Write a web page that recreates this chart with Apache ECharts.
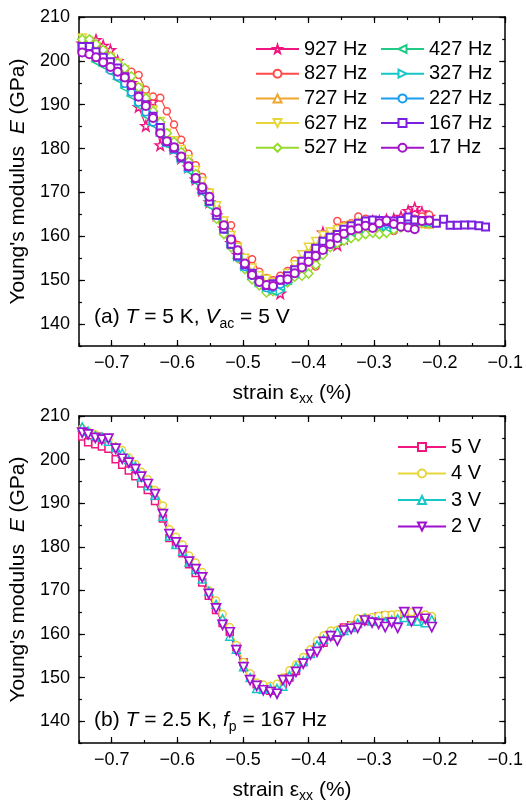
<!DOCTYPE html>
<html>
<head>
<meta charset="utf-8">
<script src="https://cdn.jsdelivr.net/npm/echarts@6/dist/echarts.min.js"></script>
<style>
  html, body { margin: 0; padding: 0; background: #fff; }
  #chart { width: 526px; height: 804px; }
</style>
</head>
<body>
<div id="chart"></div>
<script>
// ---- panel (a): T = 5 K, Vac = 5 V, different pulse frequencies ----
const strainA = [-0.745, -0.734, -0.724, -0.713, -0.702, -0.691, -0.680, -0.670, -0.659, -0.648,
  -0.637, -0.626, -0.616, -0.605, -0.594, -0.583, -0.572, -0.562, -0.551, -0.540,
  -0.529, -0.518, -0.508, -0.497, -0.486, -0.475, -0.464, -0.454, -0.443, -0.432,
  -0.421, -0.410, -0.400, -0.389, -0.378, -0.367, -0.356, -0.346, -0.335, -0.324,
  -0.313, -0.302, -0.292, -0.281, -0.270, -0.259, -0.248, -0.238, -0.227, -0.216]
// 167 Hz run goes further
const strainA167 = strainA.concat([-0.205, -0.194, -0.184, -0.173, -0.162, -0.151, -0.140, -0.130])

const e927 = [204.0, 204.5, 204.8, 203.5, 202.5, 200.0, 197.5, 195.0, 189.5, 185.2,
  190.7, 180.8, 182.0, 180.0, 177.8, 175.8, 173.0, 170.5, 167.8, 164.8,
  161.8, 158.5, 155.8, 153.6, 151.5, 150.0, 148.5, 148.0, 147.0, 150.5,
  152.5, 154.5, 156.0, 158.0, 160.9, 159.5, 158.0, 159.5, 161.0, 162.0,
  163.0, 163.5, 163.5, 163.8, 164.0, 164.5, 165.8, 166.5, 165.5, 164.5]
const e827 = [203.5, 203.0, 202.0, 201.0, 200.0, 199.0, 198.0, 197.5, 196.8, 193.4,
  191.9, 191.6, 188.5, 185.5, 182.0, 178.8, 176.2, 173.5, 170.0, 166.5,
  163.5, 162.5, 158.0, 155.0, 154.8, 151.9, 150.5, 150.0, 151.0, 152.1,
  154.5, 153.5, 154.0, 153.1, 158.5, 160.5, 163.5, 162.5, 163.0, 164.5,
  164.0, 163.5, 162.5, 161.5, 161.2, 162.0, 163.0, 164.0, 164.5, 164.9]
const e727 = [204.5, 204.0, 203.0, 201.8, 200.5, 199.3, 197.5, 195.8, 193.5, 191.0,
  188.2, 185.5, 182.8, 181.0, 179.0, 177.0, 174.5, 171.8, 169.0, 166.0,
  162.5, 159.2, 156.5, 154.0, 152.0, 150.3, 149.5, 149.0, 149.5, 150.8,
  152.8, 154.8, 156.5, 158.0, 159.6, 160.8, 161.5, 162.3, 162.8, 163.2,
  163.5, 163.4, 163.0, 162.8, 163.0, 163.2, 163.5, 163.3, 163.0, 162.8]
const e627 = [205.2, 204.5, 203.3, 202.0, 200.8, 199.5, 198.0, 196.0, 193.8, 191.5,
  188.8, 186.2, 183.5, 181.8, 179.8, 177.5, 175.0, 172.5, 169.8, 167.0,
  163.5, 160.2, 157.5, 155.0, 152.8, 151.0, 150.2, 149.5, 150.0, 151.5,
  153.5, 155.8, 157.5, 158.8, 160.2, 161.0, 161.5, 162.0, 162.5, 163.0,
  163.2, 163.0, 162.6, 162.5, 162.8, 163.0, 163.3, 163.0, 162.8, 162.7]
const e527 = [204.9, 204.9, 203.8, 202.5, 201.0, 199.5, 198.3, 196.5, 194.0, 191.5,
  188.5, 186.0, 183.5, 181.5, 179.2, 177.0, 174.2, 171.0, 167.5, 164.0,
  160.5, 157.5, 155.0, 152.5, 150.2, 148.8, 147.2, 147.5, 148.0, 149.5,
  150.8, 151.0, 151.5, 153.5, 155.8, 157.5, 158.5, 159.0, 159.6, 160.0,
  160.5, 160.8, 160.5, 160.8, 161.5, 162.0, 162.5, 163.0, 163.2, 163.0]
const e427 = [202.5, 201.5, 199.8, 198.9, 197.5, 195.8, 193.8, 192.0, 189.8, 187.5,
  185.5, 183.5, 181.0, 179.5, 177.5, 175.0, 172.5, 170.0, 167.0, 164.5,
  161.5, 158.0, 155.0, 152.8, 151.0, 149.5, 148.0, 147.5, 148.5, 150.0,
  151.5, 153.2, 154.5, 155.8, 157.0, 158.5, 159.5, 160.2, 161.0, 161.8,
  162.3, 162.5, 162.3, 162.0, 162.5, 163.0, 163.5, 163.5, 163.2, 163.0]
const e327 = [203.0, 202.5, 201.0, 199.8, 198.5, 197.0, 195.0, 193.0, 190.8, 188.5,
  186.2, 183.8, 181.5, 179.8, 177.8, 175.5, 173.0, 170.5, 168.0, 165.2,
  162.0, 158.5, 155.5, 153.2, 151.2, 149.5, 148.5, 148.0, 147.5, 149.5,
  151.5, 153.0, 154.5, 156.0, 157.5, 158.8, 159.8, 160.8, 161.5, 162.0,
  162.5, 162.8, 162.5, 162.3, 162.7, 163.0, 163.5, 163.8, 163.5, 163.3]
const e227 = [202.8, 202.2, 200.8, 199.5, 197.8, 196.4, 194.8, 192.8, 190.5, 188.3,
  186.0, 183.8, 181.2, 179.8, 177.8, 175.6, 173.0, 170.5, 167.8, 164.8,
  161.5, 158.0, 155.2, 153.0, 151.0, 149.5, 148.2, 148.3, 149.0, 150.2,
  152.0, 153.8, 155.0, 156.5, 158.0, 159.2, 160.2, 161.2, 162.0, 162.6,
  163.0, 163.2, 163.0, 162.8, 163.0, 163.3, 163.8, 163.6, 163.5, 163.4]
const e167 = [203.3, 203.3, 202.1, 200.8, 199.8, 198.4, 196.4, 194.4, 192.0, 190.0,
  187.4, 184.8, 181.6, 180.1, 178.0, 176.0, 173.2, 170.6, 168.0, 164.8,
  161.7, 158.2, 155.6, 153.5, 151.6, 150.0, 148.8, 149.2, 150.0, 151.0,
  152.4, 154.3, 155.6, 157.3, 158.9, 159.8, 160.4, 161.6, 162.4, 163.0,
  163.5, 163.7, 163.6, 163.3, 163.5, 163.6, 164.4, 163.7, 163.6, 163.6,
  163.0, 163.9, 162.5, 162.5, 162.6, 162.6, 162.4, 162.1]
const e17 = [201.9, 201.5, 200.8, 199.7, 198.6, 197.5, 196.2, 194.5, 191.8, 189.7,
  187.0, 183.5, 181.7, 180.3, 178.2, 176.0, 173.3, 171.2, 169.0, 165.5,
  162.5, 159.3, 156.8, 153.8, 151.2, 149.6, 148.9, 148.7, 150.1, 150.2,
  151.6, 152.9, 154.2, 155.5, 156.9, 158.2, 159.6, 160.6, 161.4, 161.8,
  162.4, 161.9, 163.0, 163.6, 162.8, 162.2, 162.0, 161.6, 163.5, 163.6]

// ---- panel (b): T = 2.5 K, fp = 167 Hz, different voltages ----
const strainB = [-0.745, -0.736, -0.725, -0.715, -0.705, -0.694, -0.684, -0.674, -0.664, -0.655,
  -0.645, -0.634, -0.622, -0.612, -0.602, -0.592, -0.582, -0.572, -0.562, -0.552,
  -0.541, -0.531, -0.520, -0.510, -0.499, -0.489, -0.479, -0.469, -0.458, -0.448,
  -0.439, -0.429, -0.419, -0.408, -0.397, -0.387, -0.377, -0.366, -0.356, -0.346,
  -0.335, -0.325, -0.314, -0.303, -0.293, -0.283, -0.273, -0.264, -0.254, -0.243,
  -0.234, -0.222, -0.212]
const v5 = [205.3, 204.0, 203.5, 203.0, 202.5, 200.1, 198.8, 197.5, 196.2, 194.5,
  193.0, 190.5, 186.5, 182.0, 180.5, 178.5, 176.0, 174.0, 171.8, 168.8,
  165.5, 162.5, 160.5, 157.0, 153.5, 150.5, 148.5, 147.5, 147.0, 147.2,
  148.5, 150.0, 151.5, 153.5, 155.5, 157.0, 158.0, 159.5, 160.5, 161.5,
  162.0, 162.3, 163.0, 163.5, 164.0, 164.2, 164.0, 164.3, 164.5, 164.2,
  164.0, 164.0, 163.5]
const v4 = [207.2, 206.5, 205.8, 205.3, 204.5, 203.0, 202.2, 200.5, 199.0, 197.2,
  195.5, 193.0, 189.5, 184.0, 182.3, 180.5, 178.0, 176.4, 174.2, 170.0,
  167.7, 164.6, 161.6, 157.5, 153.6, 151.0, 148.9, 148.4, 148.1, 148.6,
  150.0, 151.7, 153.0, 154.7, 156.5, 158.5, 159.7, 160.8, 161.0, 161.2,
  162.0, 163.6, 163.8, 163.9, 164.2, 164.4, 164.5, 164.6, 164.8, 165.0,
  165.2, 164.5, 164.1]
const v3 = [207.5, 206.5, 205.5, 205.2, 204.2, 202.8, 201.5, 200.0, 198.5, 196.0,
  194.0, 191.8, 187.0, 182.5, 180.5, 179.0, 176.5, 174.8, 172.6, 169.8,
  166.8, 163.5, 159.5, 156.5, 152.5, 150.0, 147.5, 147.3, 147.5, 147.5,
  148.0, 150.5, 152.5, 153.8, 155.5, 157.5, 158.8, 159.8, 160.5, 160.8,
  161.5, 162.5, 163.5, 163.0, 163.0, 162.8, 163.2, 163.5, 163.8, 163.0,
  162.9, 162.6, 163.3]
const v2 = [206.2, 205.8, 205.0, 204.6, 204.8, 202.5, 200.2, 199.3, 197.8, 196.1,
  194.4, 192.1, 187.5, 182.9, 181.0, 179.1, 176.6, 174.9, 173.0, 169.2,
  165.9, 162.1, 160.4, 156.3, 152.4, 149.4, 148.1, 147.1, 146.7, 146.3,
  149.4, 149.4, 151.3, 153.2, 155.3, 155.9, 158.2, 159.5, 158.5, 160.8,
  161.2, 161.4, 163.1, 162.6, 162.3, 161.6, 162.6, 161.4, 165.0, 162.9,
  165.0, 163.5, 161.6]

const xMajorTicks = [-0.7, -0.6, -0.5, -0.4, -0.3, -0.2, -0.1]
const yMajorTicks = [140, 150, 160, 170, 180, 190, 200, 210]

const font = 'Liberation Sans, Arial, sans-serif'
const star = 'path://M0,-10L2.35,-3.24L9.51,-3.09L3.8,1.24L5.88,8.09L0,4L-5.88,8.09L-3.8,1.24L-9.51,-3.09L-2.35,-3.24Z'

const seriesA = [
  { name: '927 Hz', x: strainA, y: e927, color: '#F0167F', symbol: star, size: 10, bw: 1.5 },
  { name: '827 Hz', x: strainA, y: e827, color: '#FF4A4A', symbol: 'circle', size: 7 },
  { name: '727 Hz', x: strainA, y: e727, color: '#EEA62E', symbol: 'triangle', size: 8 },
  { name: '627 Hz', x: strainA, y: e627, color: '#E6D63A', symbol: 'triangle', size: 8, rotate: 180 },
  { name: '527 Hz', x: strainA, y: e527, color: '#96DB2E', symbol: 'diamond', size: 9 },
  { name: '427 Hz', x: strainA, y: e427, color: '#1FCB86', symbol: 'triangle', size: 8, rotate: 90 },
  { name: '327 Hz', x: strainA, y: e327, color: '#16C6C8', symbol: 'triangle', size: 8, rotate: -90 },
  { name: '227 Hz', x: strainA, y: e227, color: '#1A9DF0', symbol: 'circle', size: 7 },
  { name: '167 Hz', x: strainA167, y: e167, color: '#7B1FE0', symbol: 'rect', size: 7, bw: 2 },
  { name: '17 Hz', x: strainA, y: e17, color: '#A315C8', symbol: 'circle', size: 8, bw: 2 }
]
const seriesB = [
  { name: '5 V', x: strainB, y: v5, color: '#F0167F', symbol: 'rect', size: 7 },
  { name: '4 V', x: strainB, y: v4, color: '#E6D63A', symbol: 'circle', size: 7 },
  { name: '3 V', x: strainB, y: v3, color: '#16C6C8', symbol: 'triangle', size: 8 },
  { name: '2 V', x: strainB, y: v2, color: '#A010D0', symbol: 'triangle', size: 9, rotate: 180, bw: 1.7 }
]

function fmtX(v) {
  const r = Math.round(v * 10)
  if (Math.abs(v * 10 - r) > 1e-6) return ''
  return (r / 10).toFixed(1).replace('-', '\u2212')
}
function fmtY(v) {
  return Math.round(v) % 10 === 0 ? String(Math.round(v)) : ''
}

const axisLine = { show: true, onZero: false, lineStyle: { color: '#000', width: 1.5 } }
const tickLine = { color: '#000', width: 1.2 }

function xAxes(gi) {
  const base = { gridIndex: gi, type: 'value', min: -0.75, max: -0.1, interval: 0.05, splitLine: { show: false } }
  return [
    Object.assign({}, base, {
      position: 'bottom',
      axisLine: axisLine,
      axisTick: { inside: true, length: 3, lineStyle: tickLine },
      axisLabel: { fontSize: 18, color: '#000', fontFamily: font, margin: 8, formatter: fmtX },
      name: 'strain \u03b5{s|xx} (%)',
      nameLocation: 'middle',
      nameGap: 34,
      nameTextStyle: {
        fontSize: 21, color: '#000', fontFamily: font, lineHeight: 26,
        rich: { s: { fontSize: 14, fontFamily: font, color: '#000', verticalAlign: 'bottom', lineHeight: 14 } }
      }
    }),
    Object.assign({}, base, {
      position: 'bottom', axisLine: { show: false },
      axisTick: { inside: true, length: 6, lineStyle: tickLine, customValues: xMajorTicks },
      axisLabel: { show: false }
    }),
    Object.assign({}, base, {
      position: 'top', axisLine: axisLine,
      axisTick: { inside: true, length: 3, lineStyle: tickLine },
      axisLabel: { show: false }
    }),
    Object.assign({}, base, {
      position: 'top', axisLine: { show: false },
      axisTick: { inside: true, length: 6, lineStyle: tickLine, customValues: xMajorTicks },
      axisLabel: { show: false }
    })
  ]
}

function yAxes(gi) {
  const base = { gridIndex: gi, type: 'value', min: 135, max: 210, interval: 5, splitLine: { show: false } }
  return [
    Object.assign({}, base, {
      position: 'left',
      axisLine: axisLine,
      axisTick: { inside: true, length: 3, lineStyle: tickLine },
      axisLabel: { fontSize: 18, color: '#000', fontFamily: font, margin: 9, formatter: fmtY },
      name: "Young's modulus  {i|E} (GPa)",
      nameLocation: 'middle',
      nameRotate: 90,
      nameGap: 44,
      nameTextStyle: {
        fontSize: 21, color: '#000', fontFamily: font,
        rich: { i: { fontSize: 21, fontStyle: 'italic', fontFamily: font, color: '#000' } }
      }
    }),
    Object.assign({}, base, {
      position: 'left', axisLine: { show: false },
      axisTick: { inside: true, length: 6, lineStyle: tickLine, customValues: yMajorTicks },
      axisLabel: { show: false }
    }),
    Object.assign({}, base, {
      position: 'right', axisLine: axisLine,
      axisTick: { inside: true, length: 3, lineStyle: tickLine },
      axisLabel: { show: false }
    }),
    Object.assign({}, base, {
      position: 'right', axisLine: { show: false },
      axisTick: { inside: true, length: 6, lineStyle: tickLine, customValues: yMajorTicks },
      axisLabel: { show: false }
    })
  ]
}

function makeSeries(d, gi) {
  return {
    name: d.name,
    type: 'line',
    xAxisIndex: gi * 4,
    yAxisIndex: gi * 4,
    data: d.y.map((v, i) => [d.x[i], v]),
    symbol: d.symbol,
    symbolSize: d.size,
    symbolRotate: d.rotate || 0,
    showSymbol: true,
    lineStyle: { color: d.color, width: 1.2 },
    itemStyle: { color: '#fff', borderColor: d.color, borderWidth: d.bw || 1.5 },
    emphasis: { disabled: true },
    animation: false
  }
}

const legendText = { fontSize: 20, color: '#000', fontFamily: font }
const richNote = {
  i: { fontSize: 21, fontStyle: 'italic', fontFamily: font, color: '#000', lineHeight: 28 },
  s: { fontSize: 14, fontFamily: font, color: '#000', verticalAlign: 'bottom', lineHeight: 14 }
}

const chart = echarts.init(document.getElementById('chart'), null, { renderer: 'canvas' })
chart.setOption({
  backgroundColor: '#fff',
  animation: false,
  title: [
    {
      text: '(a) {i|T} = 5 K, {i|V}{s|ac} = 5 V',
      left: 94, top: 303, padding: 0,
      textStyle: { fontSize: 21, fontWeight: 'normal', fontFamily: font, color: '#000', lineHeight: 28, rich: richNote }
    },
    {
      text: '(b) {i|T} = 2.5 K, {i|f}{s|p} = 167 Hz',
      left: 94, top: 706, padding: 0,
      textStyle: { fontSize: 21, fontWeight: 'normal', fontFamily: font, color: '#000', lineHeight: 28, rich: richNote }
    }
  ],
  grid: [
    { left: 77, top: 17, width: 431, height: 329 },
    { left: 77, top: 416, width: 431, height: 328 }
  ],
  legend: [
    {
      data: seriesA.slice(0, 5).map(d => d.name), orient: 'vertical', left: 255, top: 39,
      itemWidth: 43, itemHeight: 10, itemGap: 4.7, padding: 0, selectedMode: false, textStyle: legendText
    },
    {
      data: seriesA.slice(5).map(d => d.name), orient: 'vertical', left: 380, top: 39,
      itemWidth: 43, itemHeight: 10, itemGap: 4.7, padding: 0, selectedMode: false, textStyle: legendText
    },
    {
      data: seriesB.map(d => d.name), orient: 'vertical', left: 397, top: 437,
      itemWidth: 48, itemHeight: 10, itemGap: 6.5, padding: 0, selectedMode: false, textStyle: legendText
    }
  ],
  xAxis: xAxes(0).concat(xAxes(1)),
  yAxis: yAxes(0).concat(yAxes(1)),
  series: seriesA.map(d => makeSeries(d, 0)).concat(seriesB.map(d => makeSeries(d, 1)))
})
</script>
</body>
</html>
